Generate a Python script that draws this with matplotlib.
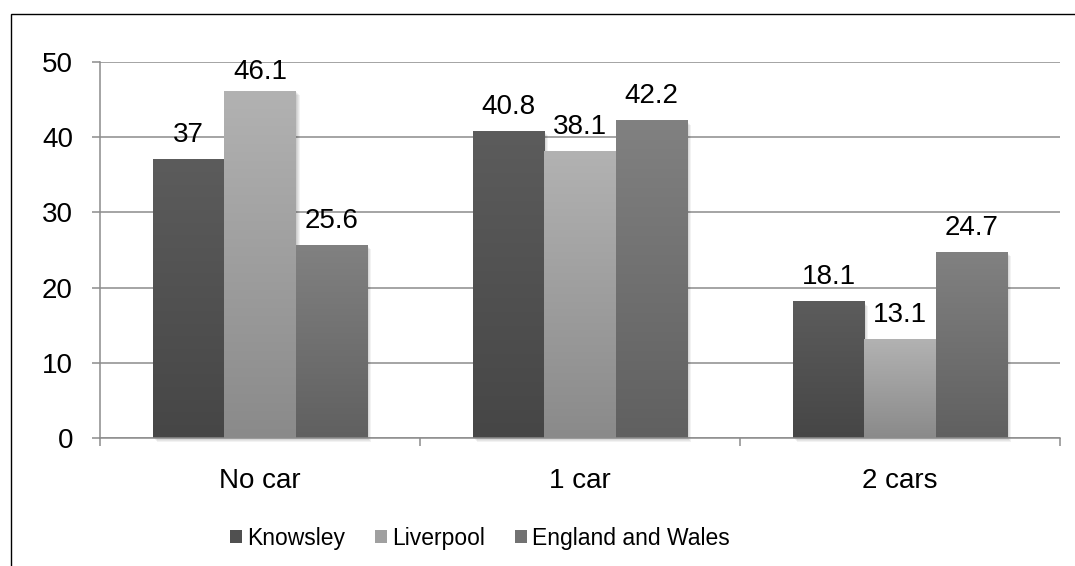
import matplotlib
matplotlib.use("Agg")
import matplotlib.pyplot as plt
import numpy as np
from matplotlib.colors import LinearSegmentedColormap
from matplotlib.patches import Rectangle
from matplotlib import transforms

plt.rcParams['font.family'] = ['Liberation Sans', 'DejaVu Sans']

categories = ["No car", "1 car", "2 cars"]
series_names = ["Knowsley", "Liverpool", "England and Wales"]
knowsley = [37, 40.8, 18.1]
liverpool = [46.1, 38.1, 13.1]
england_wales = [25.6, 42.2, 24.7]
y_ticks = [0, 10, 20, 30, 40, 50]

series_values = [knowsley, liverpool, england_wales]
# (top colour, bottom colour) of each series' vertical gradient
grad_colors = [("#5c5c5c", "#464646"), ("#b2b2b2", "#8a8a8a"), ("#818181", "#606060")]
legend_colors = ["#505050", "#a0a0a0", "#727272"]

W, H = 1075, 566
fig = plt.figure(figsize=(W / 100, H / 100), dpi=100)
ax = fig.add_axes([100 / W, 1 - 438 / H, 960 / W, 376 / H])

grid_c = "#8c8c8c"
bar_w = 0.2229
n = len(series_values)
x_centers = np.arange(len(categories)) + 0.5

grad = np.linspace(1, 0, 256).reshape(-1, 1)
for si, vals in enumerate(series_values):
    cmap = LinearSegmentedColormap.from_list(
        f"g{si}", [grad_colors[si][1], grad_colors[si][0]])
    for ci, v in enumerate(vals):
        x0 = x_centers[ci] + (si - (n - 1) / 2) * bar_w - bar_w / 2
        # soft drop shadow
        for k in range(1, 5):
            off = transforms.offset_copy(ax.transData, fig=fig,
                                         x=k * 0.72, y=-k * 0.72, units="points")
            ax.add_patch(Rectangle((x0, 0), bar_w, v, transform=off,
                                   facecolor="black", edgecolor="none",
                                   alpha=0.05, zorder=2, clip_on=False))
        ax.imshow(grad, cmap=cmap, vmin=0, vmax=1,
                  extent=[x0, x0 + bar_w, 0, v], aspect="auto",
                  interpolation="bilinear", zorder=3)
        ty = min(v + 2.33, 47.7)
        ax.text(x0 + bar_w / 2, ty, f"{v:g}", ha="center", va="baseline",
                fontsize=20, color="black", zorder=5)

ax.set_xlim(0, len(categories))
ax.set_ylim(0, 50)
ax.set_yticks(y_ticks)
ax.set_xticks(x_centers)
ax.set_xticklabels(categories)
ax.set_xticks(np.arange(len(categories) + 1), minor=True)

ax.yaxis.grid(True, color=grid_c, linewidth=1.1, zorder=0)
ax.set_axisbelow(True)
for s in ["top", "right"]:
    ax.spines[s].set_visible(False)
ax.spines["left"].set_color(grid_c)
ax.spines["bottom"].set_color(grid_c)
ax.spines["left"].set_linewidth(1.1)
ax.spines["bottom"].set_linewidth(1.1)
ax.spines["bottom"].set_zorder(4)

ax.tick_params(axis="y", which="major", direction="out", length=5.8, width=1.1,
               color=grid_c, pad=13.7, labelsize=20)
ax.tick_params(axis="x", which="major", length=0, pad=21.5, labelsize=20)
ax.tick_params(axis="x", which="minor", direction="out", length=5.8, width=1.1,
               color=grid_c)

handles = [Rectangle((0, 0), 1, 1, facecolor=c, edgecolor="none") for c in legend_colors]
fig.legend(handles, series_names, loc="center", ncol=3,
           bbox_to_anchor=(480 / W, 1 - 538 / H), frameon=False,
           prop={"size": 16.5},
           handlelength=0.52, handleheight=0.52, handletextpad=0.22,
           columnspacing=1.3, borderpad=0, borderaxespad=0)

# outer chart border (continues past right and bottom edges)
fig.add_artist(Rectangle((11 / W, -0.05), 1.2, 1.05 - 14 / H,
                         transform=fig.transFigure, facecolor="none",
                         edgecolor="black", linewidth=1.0))

fig.savefig("out.png", dpi=100)
